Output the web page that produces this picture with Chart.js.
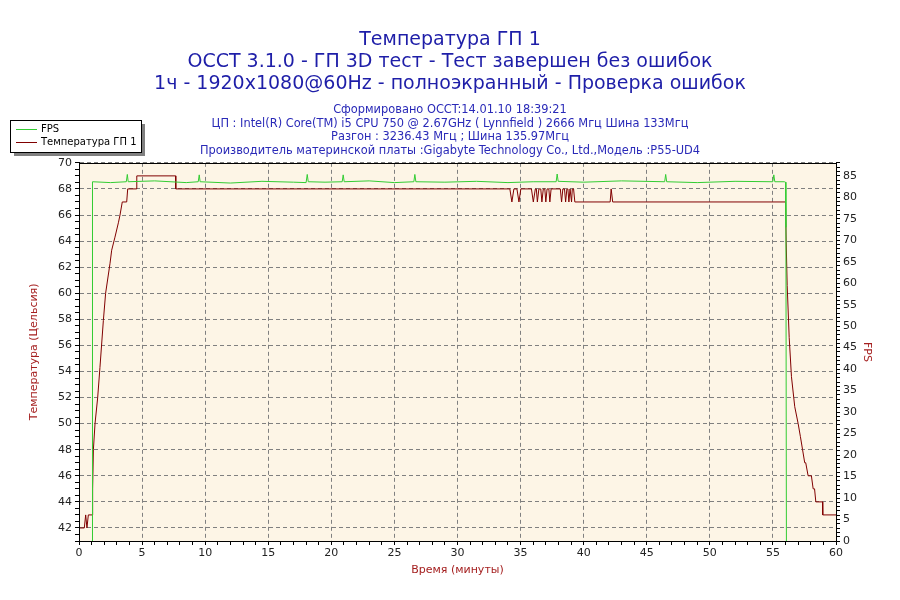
<!DOCTYPE html>
<html>
<head>
<meta charset="utf-8">
<title>Температура ГП 1</title>
<script src="https://cdn.jsdelivr.net/npm/chart.js@4.4.1/dist/chart.umd.min.js"></script>
<style>
  html, body { margin: 0; padding: 0; background: #fff; }
  canvas { display: block; }
</style>
</head>
<body>
<canvas id="occtChart" width="900" height="600"></canvas>
<script>
// Values (time in minutes)
const tempTimes = [0, 0.42, 0.53, 0.63, 0.74, 1.06, 1.08, 1.14, 1.27, 1.48, 1.66, 1.93, 2.11, 2.46, 2.59, 2.85, 3.12, 3.25, 3.3, 3.43, 3.78, 3.86, 4.57, 4.58, 7.66, 7.67,
  34.15, 34.31, 34.47, 34.71, 34.87, 35.02, 35.86, 36.01, 36.17, 36.25, 36.33, 36.45, 36.6, 36.69, 36.8, 36.92, 37.0, 37.1, 37.24, 37.32, 37.42,
  38.15, 38.25, 38.35, 38.48, 38.57, 38.67, 38.75, 38.83, 38.92, 38.98, 39.04, 39.1, 39.2, 39.3, 42.1, 42.18, 42.3,
  56.0, 56.05, 56.13, 56.29, 56.47, 56.73, 57.0, 57.18, 57.35, 57.52, 57.6, 57.79, 58.05, 58.19, 58.3, 58.4, 58.93, 58.95, 60];
const tempValues = [42, 42, 43, 42, 43, 43, 45, 48, 50, 52, 54.3, 57.9, 60, 62.3, 63.3, 64.3, 65.4, 66, 66, 67, 67, 68, 68, 69, 69, 68,
  68, 67, 68, 68, 67, 68, 68, 67, 68, 68, 67, 68, 68, 67, 68, 68, 67, 68, 68, 67, 68,
  68, 67, 68, 68, 67, 68, 68, 67, 68, 68, 67, 68, 68, 67, 67, 68, 67,
  67, 64, 60.6, 56.6, 53.6, 51.3, 50, 49, 48, 47, 47, 46, 46, 45, 45, 44, 44, 43, 43];

const fpsTimes = [1.05, 1.07, 2.5, 3.75, 3.83, 3.9, 6.0, 8.5, 9.45, 9.53, 9.6, 12.0, 14.5, 17.0, 18.0, 18.09, 18.17, 19.5, 20.86, 20.94, 21.02,
  23.0, 25.0, 26.54, 26.62, 26.7, 29.0, 31.5, 34.0, 36.0, 37.82, 37.9, 37.98, 40.0, 43.0, 46.42, 46.5, 46.58, 49.0, 52.0, 54.99, 55.07, 55.15,
  55.9, 56.0, 56.03, 56.07];
const fpsValues = [0, 83.6, 83.4, 83.6, 85.3, 83.6, 83.8, 83.4, 83.6, 85.2, 83.6, 83.3, 83.7, 83.5, 83.4, 85.3, 83.6, 83.5, 83.6, 85.2, 83.6,
  83.8, 83.4, 83.6, 85.3, 83.6, 83.5, 83.7, 83.4, 83.6, 83.6, 85.4, 83.7, 83.5, 83.8, 83.6, 85.3, 83.6, 83.4, 83.7, 83.6, 85.2, 83.6,
  83.6, 83.5, 73, 0];

const titleLines = ['Температура ГП 1', 'OCCT 3.1.0 - ГП 3D тест - Тест завершен без ошибок', '1ч - 1920x1080@60Hz - полноэкранный - Проверка ошибок'];
const infoLines = ['Сформировано OCCT:14.01.10 18:39:21',
  'ЦП : Intel(R) Core(TM) i5 CPU 750 @ 2.67GHz ( Lynnfield ) 2666 Мгц Шина 133Мгц',
  'Разгон : 3236.43 Мгц ; Шина 135.97Мгц',
  'Производитель материнской платы :Gigabyte Technology Co., Ltd.,Модель :P55-UD4'];
const seriesNames = ['FPS', 'Температура ГП 1'];

const FPS_COLOR = '#33cc33';
const TEMP_COLOR = '#800000';
const AXIS_TITLE_COLOR = '#a52020';
const FONT = 'DejaVu Sans';

function toPoints(xs, ys) {
  return xs.map((x, i) => ({ x: x, y: ys[i] }));
}

// cream plot background + full frame around the plot
const plotFrame = {
  id: 'plotFrame',
  beforeDraw(chart) {
    const { ctx, chartArea: a } = chart;
    ctx.save();
    ctx.fillStyle = '#fdf5e6';
    ctx.fillRect(a.left, a.top, a.right - a.left, a.bottom - a.top);
    ctx.restore();
  },
  afterDraw(chart) {
    const { ctx, chartArea: a } = chart;
    ctx.save();
    ctx.setLineDash([]);
    ctx.strokeStyle = '#000';
    ctx.lineWidth = 1;
    ctx.strokeRect(Math.round(a.left) + 0.5, Math.round(a.top) + 0.5, Math.round(a.right - a.left), Math.round(a.bottom - a.top));
    ctx.restore();
  }
};

// boxed legend in the top-left corner, like the original
const boxLegend = {
  id: 'boxLegend',
  afterDraw(chart) {
    const ctx = chart.ctx;
    const x = 10, y = 120, w = 131, h = 32;
    ctx.save();
    ctx.fillStyle = '#808080';
    ctx.fillRect(x + 4, y + 4, w, h);
    ctx.fillStyle = '#fff';
    ctx.fillRect(x, y, w, h);
    ctx.strokeStyle = '#000';
    ctx.lineWidth = 1;
    ctx.strokeRect(x + 0.5, y + 0.5, w, h);
    const colors = [FPS_COLOR, TEMP_COLOR];
    ctx.font = '10px "' + FONT + '"';
    ctx.textBaseline = 'middle';
    seriesNames.forEach((name, i) => {
      const ly = y + 9.5 + i * 13;
      ctx.strokeStyle = colors[i];
      ctx.beginPath();
      ctx.moveTo(x + 6, ly);
      ctx.lineTo(x + 27, ly);
      ctx.stroke();
      ctx.fillStyle = '#000';
      ctx.fillText(name, x + 31, ly);
    });
    ctx.restore();
  }
};

const ctx = document.getElementById('occtChart').getContext('2d');
const occtChart = new Chart(ctx, {
  type: 'line',
  data: {
    datasets: [{
      label: seriesNames[0],
      data: toPoints(fpsTimes, fpsValues),
      yAxisID: 'y1',
      borderColor: FPS_COLOR,
      borderWidth: 1,
      pointRadius: 0,
      tension: 0
    }, {
      label: seriesNames[1],
      data: toPoints(tempTimes, tempValues),
      yAxisID: 'y',
      borderColor: TEMP_COLOR,
      borderWidth: 1,
      pointRadius: 0,
      tension: 0
    }]
  },
  options: {
    responsive: false,
    animation: false,
    devicePixelRatio: 1,
    layout: { padding: 0 },
    plugins: {
      legend: { display: false },
      tooltip: { enabled: false },
      title: {
        display: true,
        text: titleLines,
        color: '#1e1ea8',
        font: { family: FONT, size: 19, weight: 'normal', lineHeight: 1.16 },
        padding: { top: 29, bottom: 0 }
      },
      subtitle: {
        display: true,
        text: infoLines,
        color: '#2a2ab8',
        font: { family: FONT, size: 11.4, weight: 'normal', lineHeight: 1.2 },
        padding: { top: 8, bottom: 5 }
      }
    },
    scales: {
      x: {
        type: 'linear',
        min: 0,
        max: 60,
        ticks: {
          stepSize: 1,
          autoSkip: false,
          maxRotation: 0,
          color: '#222',
          font: { family: FONT, size: 11 },
          padding: 2,
          callback: v => (v % 5 === 0 ? v : '')
        },
        grid: {
          color: c => (c.tick && c.tick.value % 5 === 0 ? '#808080' : 'transparent'),
          tickColor: '#000',
          tickLength: 4
        },
        border: { color: '#000', dash: [4, 3] },
        title: {
          display: true,
          text: 'Время (минуты)',
          color: AXIS_TITLE_COLOR,
          font: { family: FONT, size: 11 },
          padding: { top: 0, bottom: 23 }
        },
        afterFit(s) { s.height = 59; }
      },
      y: {
        type: 'linear',
        position: 'left',
        min: 41,
        max: 70,
        ticks: {
          stepSize: 0.5,
          autoSkip: false,
          color: '#222',
          font: { family: FONT, size: 11 },
          callback: v => (v % 2 === 0 ? v : '')
        },
        grid: {
          color: c => (c.tick && c.tick.value % 2 === 0 ? '#808080' : 'transparent'),
          tickColor: '#000',
          tickLength: 4
        },
        border: { color: '#000', dash: [4, 3] },
        title: {
          display: true,
          text: 'Температура (Цельсия)',
          color: AXIS_TITLE_COLOR,
          font: { family: FONT, size: 11 },
          padding: { top: 28, bottom: 0 }
        },
        afterFit(s) { s.width = 79; }
      },
      y1: {
        type: 'linear',
        position: 'right',
        min: 0,
        max: 88,
        ticks: {
          stepSize: 1,
          autoSkip: false,
          color: '#222',
          font: { family: FONT, size: 11 },
          callback: v => (v % 5 === 0 ? v : '')
        },
        grid: {
          drawOnChartArea: false,
          tickColor: '#000',
          tickLength: 4
        },
        border: { color: '#000' },
        title: {
          display: true,
          text: 'FPS',
          color: AXIS_TITLE_COLOR,
          font: { family: FONT, size: 11 },
          padding: { top: 27, bottom: 0 }
        },
        afterFit(s) { s.width = 64; }
      }
    }
  },
  plugins: [plotFrame, boxLegend]
});
</script>
</body>
</html>
